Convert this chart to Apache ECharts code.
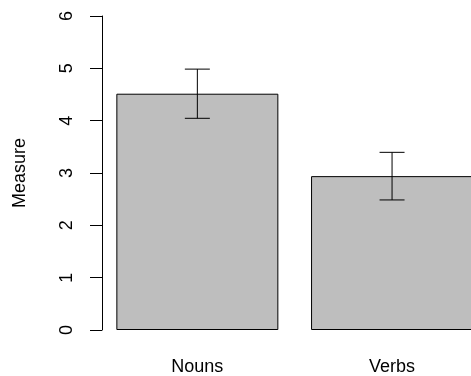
<!DOCTYPE html>
<html>
<head>
<meta charset="utf-8">
<script src="https://cdn.jsdelivr.net/npm/echarts@6/dist/echarts.min.js"></script>
<style>
html,body{margin:0;padding:0;background:#fff;}
#chart{width:471px;height:376px;}
</style>
</head>
<body>
<div id="chart"></div>
<script>
const categories = ['Nouns', 'Verbs'];
const means = [4.515, 2.94];
const errors = [0.47, 0.455];
const yTicks = [0, 1, 2, 3, 4, 5, 6];
const yTitle = 'Measure';

const FONT = '"Liberation Sans", Arial, sans-serif';
const chart = echarts.init(document.getElementById('chart'), null, {renderer: 'canvas'});

const errData = categories.map((c, i) => [i, means[i] - errors[i], means[i] + errors[i]]);

chart.setOption({
  animation: false,
  backgroundColor: '#ffffff',
  grid: {left: 100, width: 389.4, top: 16, height: 314, containLabel: false, outerBoundsMode: 'none'},
  xAxis: {
    type: 'category',
    data: categories,
    boundaryGap: true,
    axisLine: {show: false},
    axisTick: {show: false},
    axisLabel: {color: '#000', fontFamily: FONT, fontSize: 18, margin: 28}
  },
  yAxis: {
    type: 'value',
    min: yTicks[0],
    max: yTicks[yTicks.length - 1],
    interval: 1,
    offset: -2,
    name: yTitle,
    nameLocation: 'middle',
    nameRotate: 90,
    nameGap: 73,
    nameTextStyle: {color: '#000', fontFamily: FONT, fontSize: 18},
    axisLine: {show: true, lineStyle: {color: '#000', width: 1}},
    axisTick: {show: true, length: 12, lineStyle: {color: '#000', width: 1}},
    axisLabel: {rotate: 90, color: '#000', fontFamily: FONT, fontSize: 18, margin: 26},
    splitLine: {show: false}
  },
  series: [
    {
      type: 'bar',
      data: means,
      barWidth: 162,
      itemStyle: {color: '#bebebe', borderColor: '#000', borderWidth: 1}
    },
    {
      type: 'custom',
      clip: false,
      data: errData,
      renderItem: function (params, api) {
        const x = api.value(0);
        const lo = api.coord([x, api.value(1)]);
        const hi = api.coord([x, api.value(2)]);
        const hw = 12.5;
        const style = {stroke: '#000', lineWidth: 1};
        return {
          type: 'group',
          children: [
            {type: 'line', shape: {x1: lo[0], y1: lo[1], x2: hi[0], y2: hi[1]}, style: style},
            {type: 'line', shape: {x1: hi[0] - hw, y1: hi[1], x2: hi[0] + hw, y2: hi[1]}, style: style},
            {type: 'line', shape: {x1: lo[0] - hw, y1: lo[1], x2: lo[0] + hw, y2: lo[1]}, style: style}
          ]
        };
      },
      z: 10
    }
  ]
});
</script>
</body>
</html>
